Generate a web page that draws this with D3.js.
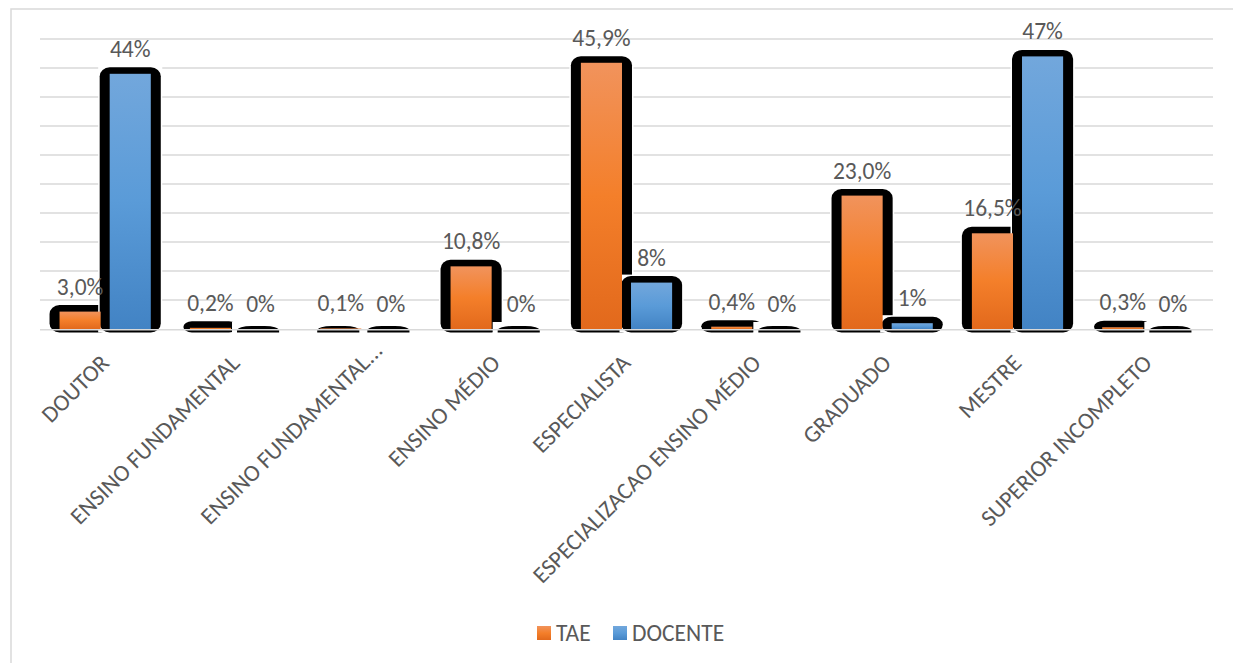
<!DOCTYPE html>
<html>
<head>
<meta charset="utf-8">
<script src="https://cdn.jsdelivr.net/npm/d3@7"></script>
<style>
  html, body { margin: 0; padding: 0; background: #fff; }
  svg { display: block; font-family: Carlito, "Open Sans", sans-serif; }
</style>
</head>
<body>
<svg id="chart" width="1233" height="663"></svg>
<script>
const categories = ["DOUTOR", "ENSINO FUNDAMENTAL", "ENSINO FUNDAMENTAL...", "ENSINO MÉDIO", "ESPECIALISTA", "ESPECIALIZACAO ENSINO MÉDIO", "GRADUADO", "MESTRE", "SUPERIOR INCOMPLETO"];
const seriesNames = ["TAE", "DOCENTE"];
const taeValues = [3.0, 0.2, 0.1, 10.8, 45.9, 0.4, 23.0, 16.5, 0.3];
const taeLabels = ["3,0%", "0,2%", "0,1%", "10,8%", "45,9%", "0,4%", "23,0%", "16,5%", "0,3%"];
const docenteValues = [44, 0, 0, 0, 8, 0, 1, 47, 0];
const docenteLabels = ["44%", "0%", "0%", "0%", "8%", "0%", "1%", "47%", "0%"];
const yDomain = [0, 50];
const yTickStep = 5;

const svg = d3.select("#chart");
const plot = { left: 40, right: 1213, top: 39, bottom: 329 };
const textColor = "#595959";
const gridColor = "#d9d9d9";
const fontSize = 23.5;

// frame
svg.append("rect").attr("x", 11).attr("y", 9).attr("width", 1260).attr("height", 700)
  .attr("fill", "none").attr("stroke", gridColor).attr("stroke-width", 1.5);

const defs = svg.append("defs");
const gradStops = {
  TAE: [["0%", "#f1935c"], ["50%", "#f47f2a"], ["100%", "#e2691c"]],
  DOCENTE: [["0%", "#72a7dc"], ["50%", "#5a9bd8"], ["100%", "#4283c4"]]
};
seriesNames.forEach(s => {
  const g = defs.append("linearGradient").attr("id", "grad-" + s)
    .attr("x1", 0).attr("y1", 0).attr("x2", 0).attr("y2", 1);
  gradStops[s].forEach(([o, c]) => g.append("stop").attr("offset", o).attr("stop-color", c));
});

const x0 = d3.scaleBand().domain(categories).range([plot.left, plot.right]).paddingInner(0.3).paddingOuter(0.15);
const x1 = d3.scaleBand().domain(seriesNames).range([0, x0.bandwidth()]).paddingInner(0.18);
const y = d3.scaleLinear().domain(yDomain).range([plot.bottom, plot.top]);

const ticks = d3.range(yDomain[0], yDomain[1] + 0.001, yTickStep);

// gridlines (excluding baseline)
svg.append("g").selectAll("line").data(ticks.filter(t => t > 0)).join("line")
  .attr("x1", plot.left).attr("x2", plot.right)
  .attr("y1", d => y(d)).attr("y2", d => y(d))
  .attr("stroke", gridColor).attr("stroke-width", 1.5);

const data = [];
categories.forEach((c, i) => {
  data.push({ cat: c, s: "TAE", v: taeValues[i], label: taeLabels[i] });
  data.push({ cat: c, s: "DOCENTE", v: docenteValues[i], label: docenteLabels[i] });
});

const bx = d => x0(d.cat) + x1(d.s);
const bw = x1.bandwidth();
const base = y(0);

defs.append("clipPath").attr("id", "clipBase")
  .append("rect").attr("x", 0).attr("y", 0).attr("width", 1233).attr("height", base + 3.5);

// shadows with white backing boxes
const sh = svg.append("g");
data.forEach(d => {
  const h = base - y(d.v);
  const bottom = base + 3.5;
  if (h < 1) {
    sh.append("rect")
      .attr("x", bx(d) - 8).attr("y", base - 7)
      .attr("width", bw + 10).attr("height", 11)
      .attr("fill", "#fff");
    sh.append("rect")
      .attr("x", bx(d) - 3).attr("y", base - 3)
      .attr("width", bw + 1).attr("height", bottom - (base - 3) + 5)
      .attr("rx", bw * 0.35).attr("ry", 4.5)
      .attr("fill", "#000")
      .attr("clip-path", "url(#clipBase)");
  } else {
    const ext = Math.min(10, 3 + h * 3);
    const top = Math.min(y(d.v) - 6.5, base - 6);
    sh.append("rect")
      .attr("x", bx(d) - ext - 1.5).attr("y", top - 1.5)
      .attr("width", bw + 2 * ext + 3).attr("height", bottom - top + 1.5)
      .attr("fill", "#fff");
    sh.append("rect")
      .attr("x", bx(d) - ext).attr("y", top)
      .attr("width", bw + 2 * ext).attr("height", bottom - top)
      .attr("rx", Math.min(10, ext + 2)).attr("ry", Math.min(9, (bottom - top) / 2))
      .attr("fill", "#000");
  }
});

// baseline
svg.append("line").attr("x1", plot.left).attr("x2", plot.right)
  .attr("y1", base + 0.8).attr("y2", base + 0.8)
  .attr("stroke", gridColor).attr("stroke-width", 1.6);

// bars
svg.append("g").selectAll("rect").data(data).join("rect")
  .attr("x", bx).attr("width", bw)
  .attr("y", d => y(d.v)).attr("height", d => base - y(d.v))
  .attr("fill", d => "url(#grad-" + d.s + ")");

// data labels
svg.append("g").selectAll("text").data(data).join("text")
  .attr("x", d => bx(d) + bw / 2)
  .attr("y", d => y(d.v) - 17)
  .attr("text-anchor", "middle")
  .attr("fill", textColor)
  .attr("font-size", fontSize)
  .text(d => d.label);

// x-axis labels (truncated labels let their ellipsis overflow past the anchor)
const xl = svg.append("g").selectAll("text").data(categories).join("text")
  .attr("text-anchor", "end")
  .attr("dy", "0.75em")
  .attr("fill", textColor)
  .attr("font-size", fontSize)
  .text(d => d);
xl.each(function (d) {
  let shift = 0;
  if (d.endsWith("...")) {
    const full = this.getComputedTextLength();
    this.textContent = d.slice(0, -3);
    const core = this.getComputedTextLength();
    this.textContent = d;
    shift = full - core;
  }
  d3.select(this).attr("x", shift)
    .attr("transform", `translate(${x0(d) + x0.bandwidth() / 2 - 7},352) rotate(-45)`);
});

// legend
const legendItems = [
  { name: "TAE", x: 537 },
  { name: "DOCENTE", x: 613 }
];
const lg = svg.append("g");
lg.selectAll("rect").data(legendItems).join("rect")
  .attr("x", d => d.x).attr("y", 626).attr("width", 14).attr("height", 14)
  .attr("fill", d => "url(#grad-" + d.name + ")");
lg.selectAll("text").data(legendItems).join("text")
  .attr("x", d => d.x + 19).attr("y", 641)
  .attr("fill", textColor).attr("font-size", fontSize)
  .text(d => d.name);
</script>
</body>
</html>
